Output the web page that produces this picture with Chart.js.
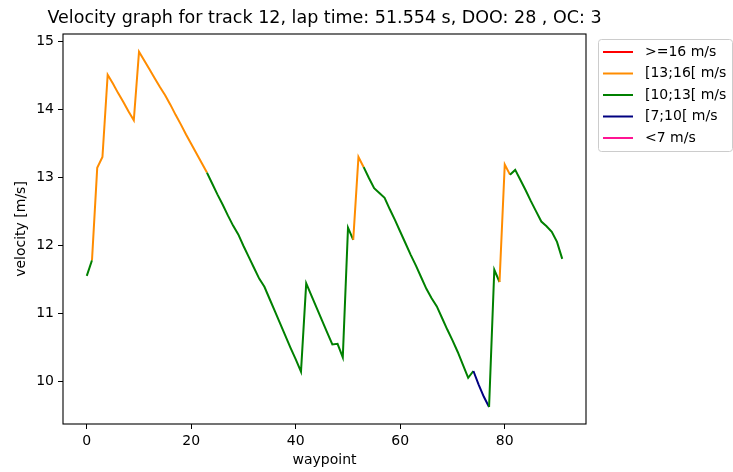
<!DOCTYPE html>
<html lang="en">
<head>
    <meta charset="UTF-8">
    <title>Velocity graph</title>
    <script src="https://cdn.jsdelivr.net/npm/chart.js"></script>
    <style>
        body { margin: 0; background: #fff; }
    </style>
</head>
<body>

    <canvas id="velChart" width="733" height="472"></canvas>

    <script>
        // velocity [m/s] per waypoint, track 12
        const velocity = [
            11.55, 11.78, 13.14, 13.30, 14.51, 14.38, 14.24, 14.11, 13.97, 13.84,
            14.85, 14.72, 14.59, 14.46, 14.33, 14.21, 14.07, 13.92, 13.78, 13.63,
            13.49, 13.35, 13.21, 13.07, 12.91, 12.75, 12.60, 12.44, 12.29, 12.16,
            11.99, 11.83, 11.67, 11.51, 11.39, 11.21, 11.03, 10.85, 10.67, 10.49,
            10.32, 10.14, 11.44, 11.26, 11.08, 10.90, 10.72, 10.54, 10.55, 10.35,
            12.26, 12.08, 13.30, 13.15, 12.99, 12.84, 12.77, 12.70, 12.53, 12.37,
            12.20, 12.03, 11.86, 11.70, 11.53, 11.36, 11.22, 11.10, 10.93, 10.76,
            10.60, 10.43, 10.24, 10.05, 10.15, 9.95, 9.77, 9.62, 11.64, 11.46,
            13.19, 13.04, 13.11, 12.96, 12.81, 12.65, 12.50, 12.35, 12.28, 12.20,
            12.05, 11.80
        ];

        // speed band of the segment that ends at each waypoint (index into bandLabels)
        const segBand = [
            2, 2, 1, 1, 1, 1, 1, 1, 1, 1,
            1, 1, 1, 1, 1, 1, 1, 1, 1, 1,
            1, 1, 1, 1, 2, 2, 2, 2, 2, 2,
            2, 2, 2, 2, 2, 2, 2, 2, 2, 2,
            2, 2, 2, 2, 2, 2, 2, 2, 2, 2,
            2, 2, 1, 1, 2, 2, 2, 2, 2, 2,
            2, 2, 2, 2, 2, 2, 2, 2, 2, 2,
            2, 2, 2, 2, 2, 3, 3, 3, 2, 2,
            1, 1, 2, 2, 2, 2, 2, 2, 2, 2,
            2, 2
        ];

        const bandLabels = ['>=16 m/s', '[13;16[ m/s', '[10;13[ m/s', '[7;10[ m/s', '<7 m/s'];
        const bandColors = ['#ff0000', '#ff8c00', '#008000', '#000080', '#ff1493'];

        const yTicks = [10, 11, 12, 13, 14, 15];
        const xTicks = [0, 20, 40, 60, 80];

        const chartTitle = 'Velocity graph for track 12, lap time: 51.554 s, DOO: 28 , OC: 3';

        const FONT = 'DejaVu Sans';
        const points = velocity.map((v, i) => ({ x: i, y: v }));

        // black box around the plot area, title centred above it
        const framePlugin = {
            id: 'frame',
            afterDraw(chart) {
                const { ctx, chartArea: a } = chart;
                ctx.save();
                ctx.strokeStyle = '#000';
                ctx.lineWidth = 1.1;
                ctx.strokeRect(a.left, a.top, a.right - a.left, a.bottom - a.top);

                ctx.font = '17.5px "' + FONT + '"';
                ctx.fillStyle = '#000';
                ctx.textAlign = 'center';
                ctx.textBaseline = 'middle';
                ctx.fillText(chartTitle, (a.left + a.right) / 2, 18);
                ctx.restore();
            }
        };

        // legend box outside the plot, top right
        const bandLegend = {
            id: 'bandLegend',
            afterDraw(chart) {
                const ctx = chart.ctx;
                const x0 = 598, y0 = 39, w = 134, h = 112, r = 3;
                ctx.save();
                ctx.beginPath();
                ctx.roundRect(x0 + 0.5, y0 + 0.5, w, h, r);
                ctx.fillStyle = 'rgba(255,255,255,0.8)';
                ctx.fill();
                ctx.strokeStyle = '#cccccc';
                ctx.lineWidth = 1;
                ctx.stroke();

                ctx.font = '14px "' + FONT + '"';
                ctx.textBaseline = 'middle';
                ctx.textAlign = 'left';
                bandLabels.forEach((lab, k) => {
                    const y = 52 + k * 21.5;
                    ctx.beginPath();
                    ctx.moveTo(603, y);
                    ctx.lineTo(633, y);
                    ctx.strokeStyle = bandColors[k];
                    ctx.lineWidth = 2;
                    ctx.stroke();
                    ctx.fillStyle = '#000';
                    ctx.fillText(lab, 645, y);
                });
                ctx.restore();
            }
        };

        const ctx = document.getElementById('velChart').getContext('2d');

        new Chart(ctx, {
            type: 'line',
            data: {
                datasets: [{
                    data: points,
                    borderWidth: 2,
                    borderColor: bandColors[2],
                    pointRadius: 0,
                    tension: 0,
                    fill: false,
                    segment: {
                        borderColor: c => bandColors[segBand[c.p1DataIndex]]
                    }
                }]
            },
            options: {
                responsive: false,
                animation: false,
                layout: { padding: { left: 0, right: 147, top: 34, bottom: 0 } },
                scales: {
                    x: {
                        type: 'linear',
                        min: -4.55,
                        max: 95.55,
                        afterFit: s => { s.height = 48; },
                        afterBuildTicks: s => { s.ticks = xTicks.map(v => ({ value: v })); },
                        grid: { drawOnChartArea: false, tickLength: 5, color: '#000', tickWidth: 1 },
                        border: { display: false },
                        ticks: {
                            padding: 4,
                            color: '#000',
                            maxRotation: 0,
                            font: { family: FONT, size: 14 }
                        },
                        title: {
                            display: true,
                            text: 'waypoint',
                            color: '#000',
                            padding: { top: 2, bottom: 3 },
                            font: { family: FONT, size: 14 }
                        }
                    },
                    y: {
                        min: 9.37,
                        max: 15.11,
                        afterFit: s => { s.width = 63; },
                        afterBuildTicks: s => { s.ticks = yTicks.map(v => ({ value: v })); },
                        grid: { drawOnChartArea: false, tickLength: 5, color: '#000', tickWidth: 1 },
                        border: { display: false },
                        ticks: {
                            padding: 4,
                            color: '#000',
                            font: { family: FONT, size: 14 }
                        },
                        title: {
                            display: true,
                            text: 'velocity [m/s]',
                            color: '#000',
                            padding: { top: 13, bottom: 0 },
                            font: { family: FONT, size: 14 }
                        }
                    }
                },
                plugins: {
                    legend: { display: false },
                    tooltip: { enabled: false },
                    title: { display: false }
                }
            },
            plugins: [framePlugin, bandLegend]
        });
    </script>
</body>
</html>
